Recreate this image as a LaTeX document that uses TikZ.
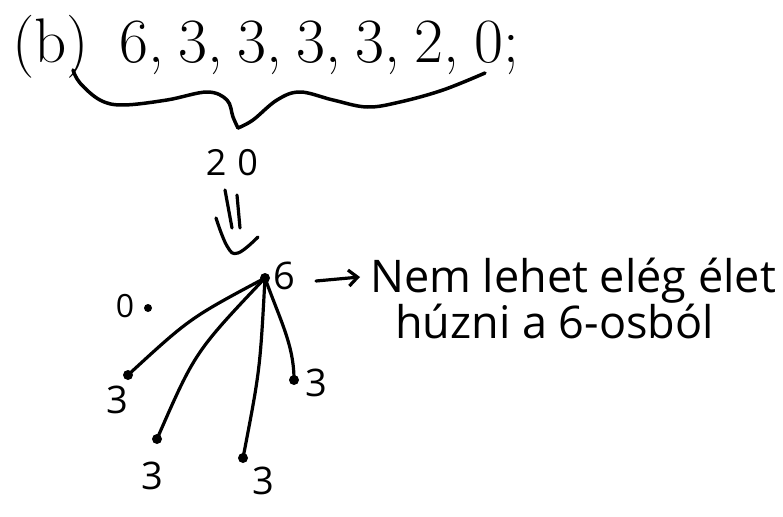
\documentclass[tikz,border=0pt]{standalone}
\usepackage{fontspec}
\newfontfamily\hand{Open Sans}
\usetikzlibrary{arrows.meta}
\tikzset{
  pen/.style={line width=3.2pt, line cap=round, line join=round},
  vtx/.style={circle, fill=black, inner sep=0pt, minimum size=10pt},
  lbl/.style={font=\hand\fontsize{38}{42}\selectfont, inner sep=0pt},
  note/.style={font=\hand\fontsize{45}{50}\selectfont, inner sep=0pt, anchor=base west},
}
\newcommand{\cs}{,\hspace{0.23em}}
\begin{document}
\begin{tikzpicture}[x=1pt,y=-1pt]
\useasboundingbox (0,0) rectangle (783,516);
% title
\node[anchor=base west, inner sep=0pt, font=\fontsize{63}{70}\selectfont] (b) at (12,63) {(b)};
\node[anchor=base west, inner sep=0pt, font=\fontsize{63}{70}\selectfont] (seq) at (119,63) {6\cs3\cs3\cs3\cs3\cs2\cs0;};
% brace
\draw[pen, line width=3.5pt] plot[smooth, tension=0.6] coordinates {(73,70) (80,83) (100,100) (123,105) (167,100) (207,92) (227,100) (233,117) (238,128)};
\draw[pen, line width=3.5pt] plot[smooth, tension=0.6] coordinates {(238,128) (253,120) (277,100) (300,92) (333,100) (367,107) (400,102) (443,90) (485,73)};
% sum
\node[lbl, font=\hand\fontsize{36}{40}\selectfont] (sum) at (232,163) {2\hspace{11pt}0};
% double arrow
\draw[pen] (225,190) -- (232,228);
\draw[pen] (237,195) -- (240,228);
\draw[pen] plot[smooth, tension=0.7] coordinates {(216,218) (227,246) (238,253) (258,237)};
% vertices
\node[vtx] (c) at (265,278) {};
\node[lbl] (l6) at (284,276) {6};
\node[vtx, minimum size=8pt] (z) at (148,308) {};
\node[lbl, font=\hand\fontsize{32}{36}\selectfont] (l0) at (125,306) {0};
\node[vtx] (a) at (128,375) {};
\node[lbl] (la) at (117,400) {3};
\node[vtx] (bb) at (157,439) {};
\node[lbl] (lb) at (152,476) {3};
\node[vtx] (cc) at (243,458) {};
\node[lbl] (lc) at (263,481) {3};
\node[vtx] (d) at (294,380) {};
\node[lbl] (ld) at (316,383) {3};
% edges
\draw[pen] (c.center) .. controls (190,318) .. (a.center);
\draw[pen] (c.center) .. controls (195,352) .. (bb.center);
\draw[pen] (c.center) .. controls (260,370) .. (cc.center);
\draw[pen] (c.center) .. controls (280,320) and (294,345) .. (d.center);
% note
\coordinate (ar1) at (316,281);
\coordinate (ar2) at (360,277);
\draw[pen, -{Straight Barb[length=9pt,width=16pt]}] (ar1) -- (ar2);
\node[note] (n1) at (370,292) {Nem lehet elég élet};
\node[note] (n2) at (395,338) {húzni a 6-osból};
\end{tikzpicture}
\end{document}
